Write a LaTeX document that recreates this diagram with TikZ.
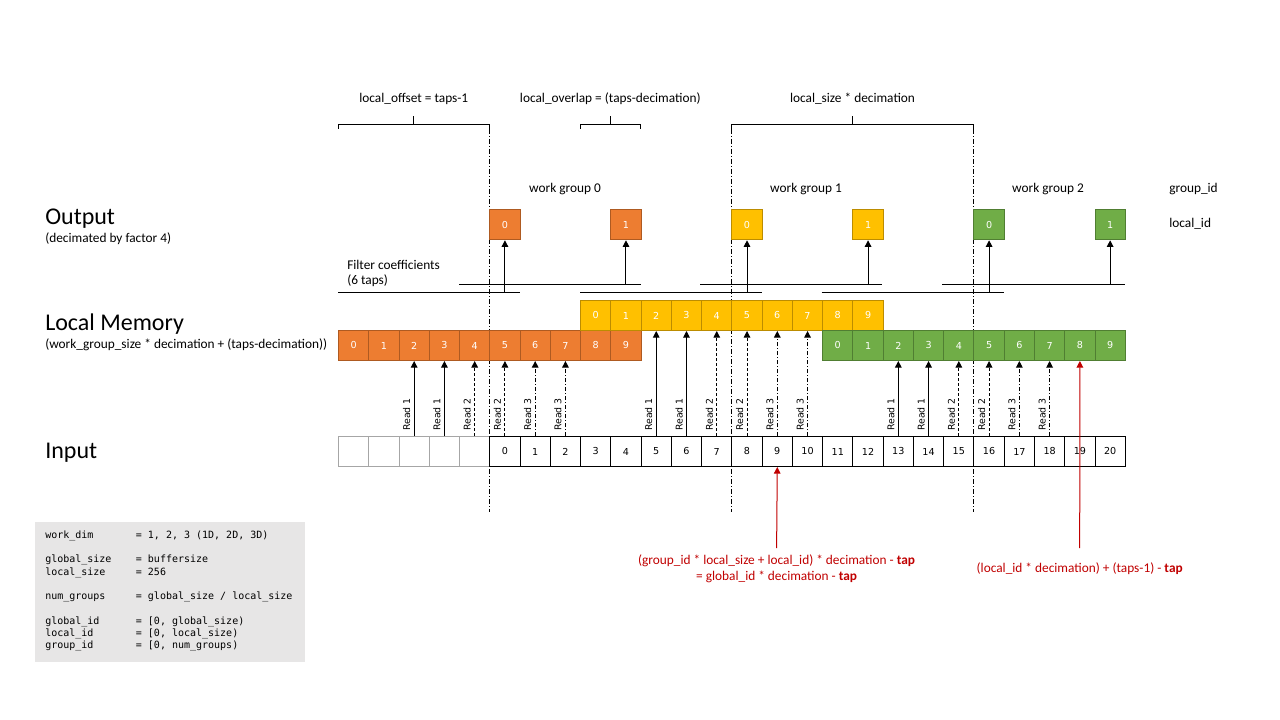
\documentclass[tikz,border=0pt]{standalone}
\usepackage{fontspec}
\setmainfont{Carlito}
\newfontfamily\codefont{DejaVu Sans Mono}
\newfontfamily\cellfont{DejaVu Sans}
\usetikzlibrary{arrows.meta,calc}
\definecolor{orgF}{HTML}{ED7D31}
\definecolor{orgD}{HTML}{AE5A21}
\definecolor{yelF}{HTML}{FFC000}
\definecolor{yelD}{HTML}{BC8C00}
\definecolor{grnF}{HTML}{70AD47}
\definecolor{grnD}{HTML}{507E32}
\definecolor{redT}{HTML}{C00000}
\definecolor{boxG}{HTML}{E7E6E6}
\definecolor{blankD}{HTML}{A6A6A6}
\newcommand\codeln[2]{\makebox[68pt][l]{#1}#2}
\begin{document}
\begin{tikzpicture}[x=0.75pt,y=-0.75pt,
  cellbase/.style={minimum width=22.695pt, minimum height=22.5pt, inner sep=0pt,
     anchor=north west, font=\cellfont\fontsize{7.2}{8.6}\selectfont, line width=0.75pt, draw},
  orgcell/.style={cellbase, fill=orgF, draw=orgD, text=white},
  yelcell/.style={cellbase, fill=yelF, draw=yelD, text=white},
  grncell/.style={cellbase, fill=grnF, draw=grnD, text=white},
  incell/.style={cellbase, fill=white, draw=black},
  blankcell/.style={cellbase, fill=white, draw=blankD},
  thin line/.style={line width=0.75pt, black},
  grpline/.style={line width=0.75pt, dash pattern=on 3.75pt off 1.5pt on 0.75pt off 1.5pt},
  arr/.style={line width=0.75pt, -{Triangle[length=5pt,width=5pt]}},
  rd1/.style={},
  rd2/.style={dash pattern=on 2.25pt off 1.5pt},
  rd3/.style={dash pattern=on 3pt off 1.5pt on 0.75pt off 1.5pt},
  lbl/.style={inner sep=0pt, font=\fontsize{10}{12}\selectfont},
  small/.style={inner sep=0pt, font=\fontsize{10}{12}\selectfont},
  big/.style={inner sep=0pt, font=\fontsize{18}{21}\selectfont},
  readlbl/.style={inner sep=0pt, rotate=90, anchor=base west, font=\cellfont\fontsize{7}{8.4}\selectfont},
  redlbl/.style={inner sep=0pt, text=redT, align=center, font=\fontsize{10}{12}\selectfont}
]
\useasboundingbox (0,0) rectangle (1280,720);

% ---------- brackets and group lines ----------
\coordinate (bA1) at (338.3,125); \coordinate (bA2) at (489.3,125);
\coordinate (bB1) at (580.1,125); \coordinate (bB2) at (640.6,125);
\coordinate (bC1) at (731.4,125); \coordinate (bC2) at (973.5,125);
\draw[thin line] ([yshift=-3pt]bA1) -- (bA1) -- (bA2) -- ([yshift=-3pt]bA2);
\draw[thin line] ($(bA1)!0.5!(bA2)$) -- ++(0,-9);
\draw[thin line] ([yshift=-3pt]bB1) -- (bB1) -- (bB2) -- ([yshift=-3pt]bB2);
\draw[thin line] ($(bB1)!0.5!(bB2)$) -- ++(0,-9);
\draw[thin line] ([yshift=-3pt]bC1) -- (bC1) -- (bC2) -- ([yshift=-3pt]bC2);
\draw[thin line] ($(bC1)!0.5!(bC2)$) -- ++(0,-9);

\coordinate (gl0) at (489.3,512); \coordinate (gl1) at (731.4,512); \coordinate (gl2) at (973.5,512);
\draw[grpline] ([yshift=-3pt]bA2) -- (gl0);
\draw[grpline] ([yshift=-3pt]bC1) -- (gl1);
\draw[grpline] ([yshift=-3pt]bC2) -- (gl2);

\node[lbl, anchor=base] (tA) at (413.8,103) {local\_offset = taps-1};
\node[lbl, anchor=base] (tB) at (610.3,103) {local\_overlap = (taps-decimation)};
\node[lbl, anchor=base] (tC) at (852.5,103) {local\_size * decimation};

% ---------- left titles ----------
\node[big, anchor=base west] (tOut) at (45,224.5) {Output};
\node[small, anchor=base west] (tOut2) at (45,243) {(decimated by factor 4)};
\node[big, anchor=base west] (tLM) at (45,330) {Local Memory};
\node[small, anchor=base west] (tLM2) at (45,348.5) {(work\_group\_size * decimation + (taps-decimation))};
\node[big, anchor=base west] (tIn) at (45,458.5) {Input};

% ---------- work group labels ----------
\node[lbl, anchor=base] (wg0) at (565,193) {work group 0};
\node[lbl, anchor=base] (wg1) at (806,193) {work group 1};
\node[lbl, anchor=base] (wg2) at (1048,193) {work group 2};
\node[lbl, anchor=base west] (gid) at (1169,193) {group\_id};
\node[lbl, anchor=base west] (lid) at (1169,228) {local\_id};

\node[lbl, anchor=base west] (fc) at (347,269) {Filter coefficients};
\node[lbl, anchor=base west] (fc2) at (347,284) {(6 taps)};

% ---------- filter lines ----------
\coordinate (f1a) at (338.3,292.3); \coordinate (f1b) at (520,292.3);
\coordinate (f2a) at (459.3,284);   \coordinate (f2b) at (641,284);
\coordinate (f3a) at (580.3,292.3); \coordinate (f3b) at (761.7,292.3);
\coordinate (f4a) at (700.3,284);   \coordinate (f4b) at (882.3,284);
\coordinate (f5a) at (821.7,292.3); \coordinate (f5b) at (1003.5,292.3);
\coordinate (f6a) at (942.3,284);   \coordinate (f6b) at (1124.5,284);
\foreach \f in {1,...,6} { \draw[thin line] (f\f a) -- (f\f b); }

% ---------- output cells ----------
\node[orgcell] (oo0) at (489.3,209.3) {0};
\node[orgcell] (oo1) at (610.34,209.3) {1};
\node[yelcell] (oy0) at (731.38,209.3) {0};
\node[yelcell] (oy1) at (852.42,209.3) {1};
\node[grncell] (og0) at (973.46,209.3) {0};
\node[grncell] (og1) at (1094.5,209.3) {1};

\draw[arr] (oo0.south |- f1a) -- (oo0.south);
\draw[arr] (oo1.south |- f2a) -- (oo1.south);
\draw[arr] (oy0.south |- f3a) -- (oy0.south);
\draw[arr] (oy1.south |- f4a) -- (oy1.south);
\draw[arr] (og0.south |- f5a) -- (og0.south);
\draw[arr] (og1.south |- f6a) -- (og1.south);

% ---------- local memory ----------
\foreach \k in {0,...,9} {
  \pgfmathsetmacro\xx{489.3+30.26*(\k-5)}
  \node[orgcell] (o\k) at (\xx,330) {\k};
}
\foreach \k in {0,...,9} {
  \pgfmathsetmacro\xx{489.3+30.26*(\k+3)}
  \node[yelcell] (y\k) at (\xx,300) {\k};
}
\foreach \k in {0,...,9} {
  \pgfmathsetmacro\xx{489.3+30.26*(\k+11)}
  \node[grncell] (g\k) at (\xx,330) {\k};
}

% ---------- input ----------
\foreach \j in {1,...,5} {
  \pgfmathsetmacro\xx{489.3+30.26*(\j-6)}
  \node[blankcell] (b\j) at (\xx,436) {};
}
\foreach \i in {0,...,20} {
  \pgfmathsetmacro\xx{489.3+30.26*\i}
  \node[incell] (in\i) at (\xx,436) {\i};
}

% ---------- reads ----------
\foreach \s/\t/\r in {b3/o2/1, b4/o3/1, b5/o4/2, in0/o5/2, in1/o6/3, in2/o7/3,
                     in5/y2/1, in6/y3/1, in7/y4/2, in8/y5/2, in9/y6/3, in10/y7/3,
                     in13/g2/1, in14/g3/1, in15/g4/2, in16/g5/2, in17/g6/3, in18/g7/3} {
  \draw[arr, rd\r] (\s.north) -- (\t.south);
  \node[readlbl] at ([xshift=-3pt,yshift=3.75pt]\s.north) {Read \r};
}

% ---------- red annotations ----------
\coordinate (r1) at (776.6,548);
\coordinate (r2) at (1079.7,548);
\draw[arr, redT] (r1) -- (in9.south);
\draw[arr, redT] (r2) -- (g8.south);
\node[redlbl, anchor=base] (rt1) at (776.6,564) {(group\_id * local\_size + local\_id) * decimation - \textbf{tap}};
\node[redlbl, anchor=base] (rt2) at (776.6,580) {= global\_id * decimation - \textbf{tap}};
\node[redlbl, anchor=base] (rt3) at (1079.7,572) {(local\_id * decimation) + (taps-1) - \textbf{tap}};

% ---------- code box ----------
\fill[boxG] (35,522) rectangle (305,662);
\node[anchor=north west, inner sep=0pt, align=left,
      font=\codefont\fontsize{7.5}{9.2}\selectfont] (code) at (45,530.5) {%
\codeln{work\_dim}{= 1, 2, 3 (1D, 2D, 3D)}\\
\mbox{}\\
\codeln{global\_size}{= buffersize}\\
\codeln{local\_size}{= 256}\\
\mbox{}\\
\codeln{num\_groups}{= global\_size / local\_size}\\
\mbox{}\\
\codeln{global\_id}{= [0, global\_size)}\\
\codeln{local\_id}{= [0, local\_size)}\\
\codeln{group\_id}{= [0, num\_groups)}};
\end{tikzpicture}
\end{document}
